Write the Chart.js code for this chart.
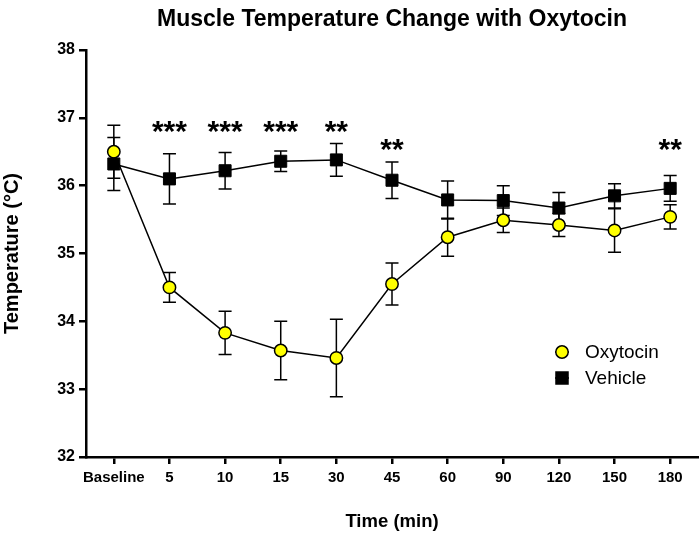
<!DOCTYPE html>
<html lang="en">
  <head>
    <meta charset="UTF-8" />
    <title>Muscle Temperature Change with Oxytocin</title>
    <script src="https://cdn.jsdelivr.net/npm/chart.js"></script>
    <style>
      html, body { margin: 0; padding: 0; background: #fff; }
      #wrap { width: 699px; height: 545px; }
    </style>
  </head>
  <body>
    <div id="wrap"><canvas id="tempChart" width="699" height="545"></canvas></div>

    <script>
      // Data (mean +/- SEM)
      const timeLabels = ['Baseline', '5', '10', '15', '30', '45', '60', '90', '120', '150', '180'];
      const oxytocinMean = [36.50, 34.50, 33.83, 33.57, 33.46, 34.55, 35.24, 35.49, 35.42, 35.34, 35.54];
      const oxytocinErr = [0.39, 0.22, 0.32, 0.43, 0.57, 0.31, 0.28, 0.18, 0.17, 0.32, 0.18];
      const vehicleMean = [36.32, 36.10, 36.22, 36.36, 36.38, 36.08, 35.79, 35.78, 35.67, 35.85, 35.96];
      const vehicleErr = [0.39, 0.37, 0.27, 0.15, 0.24, 0.27, 0.28, 0.22, 0.23, 0.18, 0.19];
      // significance marks and the temperature level they sit at
      const sigMarks = ['', '***', '***', '***', '**', '**', '', '', '', '', '**'];
      const sigLevel = [0, 36.87, 36.87, 36.87, 36.87, 36.60, 0, 0, 0, 0, 36.60];

      const FONT = "'Liberation Sans', Arial, sans-serif";

      // Error bars drawn under the markers
      const errorBars = {
        id: 'errorBars',
        beforeDatasetsDraw(chart) {
          const ctx = chart.ctx;
          const y = chart.scales.y;
          ctx.save();
          ctx.strokeStyle = '#000';
          ctx.lineWidth = 1.5;
          chart.data.datasets.forEach((ds, i) => {
            const meta = chart.getDatasetMeta(i);
            meta.data.forEach((pt, j) => {
              const top = y.getPixelForValue(ds.data[j] + ds.errors[j]);
              const bot = y.getPixelForValue(ds.data[j] - ds.errors[j]);
              ctx.beginPath();
              ctx.moveTo(pt.x, top);
              ctx.lineTo(pt.x, bot);
              ctx.moveTo(pt.x - 6.5, top);
              ctx.lineTo(pt.x + 6.5, top);
              ctx.moveTo(pt.x - 6.5, bot);
              ctx.lineTo(pt.x + 6.5, bot);
              ctx.stroke();
            });
          });
          ctx.restore();
        }
      };

      // Asterisks + legend inside the plot
      const extras = {
        id: 'extras',
        afterDatasetsDraw(chart) {
          const ctx = chart.ctx;
          const x = chart.scales.x;
          const y = chart.scales.y;
          const area = chart.chartArea;
          ctx.save();
          ctx.fillStyle = '#000';
          ctx.font = 'bold 30px ' + FONT;
          ctx.textAlign = 'center';
          ctx.textBaseline = 'alphabetic';
          sigMarks.forEach((mark, i) => {
            if (!mark) return;
            const m = ctx.measureText(mark);
            const cy = y.getPixelForValue(sigLevel[i]);
            const base = cy + (m.actualBoundingBoxAscent - m.actualBoundingBoxDescent) / 2;
            ctx.fillText(mark, x.getPixelForValue(i), base);
          });

          // legend
          const lx = area.right - 136;
          const ly = [352, 378];
          ctx.font = '19px ' + FONT;
          ctx.textAlign = 'left';
          ctx.textBaseline = 'middle';
          chart.data.datasets.slice().reverse().forEach((ds, k) => {
            const yy = ly[k];
            ctx.strokeStyle = '#000';
            ctx.lineWidth = 1.5;
            ctx.beginPath();
            ctx.moveTo(lx - 7, yy);
            ctx.lineTo(lx + 7, yy);
            ctx.stroke();
            ctx.fillStyle = ds.pointBackgroundColor;
            ctx.strokeStyle = ds.pointBorderColor;
            Chart.helpers.drawPoint(ctx, {
              pointStyle: ds.pointStyle,
              radius: ds.pointRadius,
              rotation: 0,
              borderWidth: ds.pointBorderWidth
            }, lx, yy);
            ctx.fillStyle = '#000';
            ctx.fillText(ds.label, lx + 23, yy + 1);
          });
          ctx.restore();
        }
      };

      new Chart(document.getElementById('tempChart'), {
        type: 'line',
        data: {
          labels: timeLabels,
          datasets: [
            {
              label: 'Vehicle',
              data: vehicleMean,
              errors: vehicleErr,
              borderColor: '#000',
              borderWidth: 1.5,
              pointStyle: 'rect',
              pointRadius: 8.5,
              pointBackgroundColor: '#000',
              pointBorderColor: '#000',
              pointBorderWidth: 1,
              tension: 0
            },
            {
              label: 'Oxytocin',
              data: oxytocinMean,
              errors: oxytocinErr,
              borderColor: '#000',
              borderWidth: 1.5,
              pointStyle: 'circle',
              pointRadius: 6.2,
              pointBackgroundColor: '#ffff00',
              pointBorderColor: '#000',
              pointBorderWidth: 1.5,
              tension: 0
            }
          ]
        },
        options: {
          responsive: false,
          animation: false,
          layout: { autoPadding: false, padding: { left: 0, right: 1, top: 0, bottom: 0 } },
          plugins: {
            legend: { display: false },
            tooltip: { enabled: false },
            title: {
              display: true,
              text: 'Muscle Temperature Change with Oxytocin',
              fullSize: false,
              color: '#000',
              font: { family: FONT, size: 23, weight: 'bold' },
              padding: { top: 6, bottom: 16.4 }
            }
          },
          scales: {
            x: {
              offset: true,
              afterFit(s) {
                s.height = 88;
                s.paddingLeft = 0;
                s.paddingRight = 0;
              },
              border: { color: '#000', width: 2.5 },
              grid: { drawOnChartArea: false, drawTicks: true, tickLength: 7, color: '#000', lineWidth: 2.5 },
              ticks: { color: '#000', padding: 5, maxRotation: 0, autoSkip: false, font: { family: FONT, size: 15, weight: 'bold' } },
              title: {
                display: true,
                text: 'Time (min)',
                color: '#000',
                font: { family: FONT, size: 18.5, weight: 'bold' },
                padding: { top: 0, bottom: 12 }
              }
            },
            y: {
              min: 32,
              max: 38,
              afterFit(s) { s.width = 86; },
              border: { color: '#000', width: 2.5 },
              grid: { drawOnChartArea: false, drawTicks: true, tickLength: 7, color: '#000', lineWidth: 2.5 },
              ticks: { stepSize: 1, color: '#000', padding: 4, font: { family: FONT, size: 16, weight: 'bold' } },
              title: {
                display: true,
                text: 'Temperature (°C)',
                color: '#000',
                font: { family: FONT, size: 20, weight: 'bold' },
                padding: { top: 0, bottom: 0 }
              }
            }
          }
        },
        plugins: [errorBars, extras]
      });
    </script>
  </body>
</html>
